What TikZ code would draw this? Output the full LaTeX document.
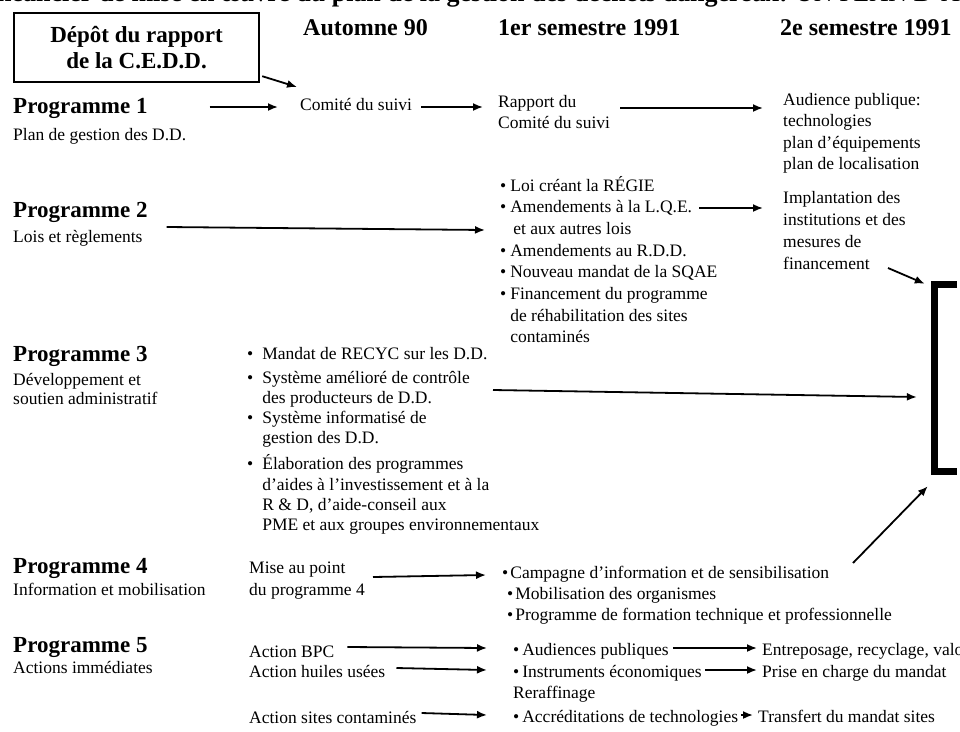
\documentclass[tikz,border=0pt]{standalone}
\usepackage{fontspec}
\setmainfont{Liberation Serif}
\usetikzlibrary{arrows.meta,calc}
\newcommand\ml[1]{\begin{tabular}[t]{@{}l@{}}#1\end{tabular}}
\newcommand\bl[2][4pt]{\begin{tabular}[t]{@{}l@{\hspace{#1}}l@{}}#2\end{tabular}}
\tikzset{
  lbl/.style={anchor=base west, inner sep=0pt, font=\fontsize{17.5}{21.5}\selectfont},
  prog/.style={anchor=base west, inner sep=0pt, font=\bfseries\fontsize{23}{26}\selectfont},
  hdr/.style={anchor=base west, inner sep=0pt, font=\bfseries\fontsize{24}{28}\selectfont},
  arr/.style={-{Latex[length=10pt,width=8pt]}, line width=1.8pt},
}
\begin{document}
\begin{tikzpicture}[x=1pt,y=-1pt]
\useasboundingbox (0,0) rectangle (960,731);
\fill[white] (0,0) rectangle (960,731);
\clip (0,0) rectangle (960,731);

% title (cut at the top, as in the scan)
\node[anchor=base east, inner sep=0pt, font=\bfseries\fontsize{26}{30}\selectfont] (ttl) at (788,1.5) {Figure 2 — Échéancier de mise en œuvre du plan de la gestion des déchets dangereux:};
\node[anchor=base west, inner sep=0pt, font=\fontsize{26}{30}\selectfont] (ttl2) at (795,1.5) {UN PLAN D’ACTION};

% box
\node[draw, line width=2.2pt, minimum width=245pt, minimum height=69pt, anchor=north west,
      align=center, inner sep=0pt, font=\bfseries\fontsize{23}{26}\selectfont] (box) at (13,12)
      {Dépôt du rapport\\de la C.E.D.D.};

% headers
\node[hdr] (h0) at (303,35) {Automne 90};
\node[hdr] (h1) at (498,35) {1er semestre 1991};
\node[hdr] (h2) at (780,35) {2e semestre 1991};

% Programme 1
\node[prog] (p1) at (13,113) {Programme 1};
\node[lbl] (p1s) at (13,140) {Plan de gestion des D.D.};
\node[lbl] (comite) at (300,110) {Comité du suivi};
\node[lbl] (rapport) at (498,107) {\ml{Rapport du\\Comité du suivi}};
\node[lbl] (aud) at (783,105) {\ml{Audience publique:\\technologies\\plan d’équipements\\plan de localisation}};

% Programme 2
\node[prog] (p2) at (13,217) {Programme 2};
\node[lbl] (p2s) at (13,242) {Lois et règlements};
\node[lbl, font=\fontsize{17.5}{21.7}\selectfont] (lois) at (500,191) {\bl{%
• & Loi créant la RÉGIE\\
• & Amendements à la L.Q.E.\\
  & \hspace{3pt}et aux autres lois\\
• & Amendements au R.D.D.\\
• & Nouveau mandat de la SQAE\\
• & Financement du programme\\
  & de réhabilitation des sites\\
  & contaminés}};
\node[lbl, font=\fontsize{17.5}{22}\selectfont] (impl) at (783,203) {\ml{Implantation des\\institutions et des\\mesures de\\financement}};

% Programme 3
\node[prog] (p3) at (13,361) {Programme 3};
\node[lbl, font=\fontsize{17.5}{19}\selectfont] (p3s) at (13,385) {\ml{Développement et\\soutien administratif}};
\node[lbl, font=\fontsize{17.5}{20.3}\selectfont] (p3l) at (247,359) {\bl[9pt]{%
• & Mandat de RECYC sur les D.D.\\[3.7pt]
• & Système amélioré de contrôle\\
  & des producteurs de D.D.\\
• & Système informatisé de\\
  & gestion des D.D.\\[4.7pt]
• & Élaboration des programmes\\
  & d’aides à l’investissement et à la\\
  & R \& D, d’aide-conseil aux\\
  & PME et aux groupes environnementaux}};

% Programme 4
\node[prog] (p4) at (13,573) {Programme 4};
\node[lbl] (p4s) at (13,595) {Information et mobilisation};
\node[lbl, font=\fontsize{17.5}{22}\selectfont] (mise) at (249,573) {\ml{Mise au point\\du programme 4}};
\node[lbl, font=\fontsize{17.5}{21}\selectfont] (p4l) at (507,578) {\bl[2pt]{%
\multicolumn{2}{@{}l@{}}{\hspace{-5pt}•\hspace{2pt}Campagne d’information et de sensibilisation}\\
• & Mobilisation des organismes\\
• & Programme de formation technique et professionnelle}};

% Programme 5
\node[prog] (p5) at (13,652) {Programme 5};
\node[lbl] (p5s) at (13,673) {Actions immédiates};
\node[lbl] (bpc) at (249,657) {Action BPC};
\node[lbl] (huiles) at (249,677) {Action huiles usées};
\node[lbl] (sites) at (249,723) {Action sites contaminés};
\node[lbl] (aud5) at (513,655) {•\hspace{3pt}Audiences publiques};
\node[lbl] (instr) at (513,677) {•\hspace{3pt}Instruments économiques};
\node[lbl] (reraff) at (513,698) {Reraffinage};
\node[lbl] (accr) at (513,722) {•\hspace{3pt}Accréditations de technologies};
\node[lbl] (entre) at (762,655) {Entreposage, recyclage, valorisation};
\node[lbl] (prise) at (762,677) {Prise en charge du mandat};
\node[lbl] (transf) at (758,722) {Transfert du mandat sites};

% bracket
\node[inner sep=0pt, minimum width=22pt, minimum height=186pt] (brk) at (946,378) {};
\draw[line width=7pt, miter limit=10] (brk.north east) -- (brk.north west) -- (brk.south west) -- (brk.south east);

% connectors
\draw[arr] ($(p1.base east)+(62,-6)$) -- ($(comite.base west)+(-22,-3)$);
\draw[arr] ($(box.south east)+(2,-7)$) -- ($(comite.base west)+(-3,-23)$);
\draw[arr] ($(comite.base east)+(9,-3)$) -- ($(rapport.base west)+(-15,0)$);
\draw[arr] ($(rapport.base west)+(122,1)$) -- ($(aud.base west)+(-20,3)$);
\draw[arr] ($(p2.base east)+(19,10)$) -- ($(lois.base west)+(-15,39)$);
\draw[arr] ($(lois.base west)+(199,17)$) -- ($(impl.base west)+(-20,5)$);
\draw[arr] ($(impl.base west)+(105,65)$) -- ($(brk.north west)+(-10,-1)$);
\draw[arr] ($(p3l.base west)+(246,31)$) -- ($(brk.west)+(-18,19)$);
\draw[arr] ($(mise.base west)+(124,4)$) -- ($(p4l.base west)+(-21,-3)$);
\draw[arr] ($(p4l.base west)+(346,-15)$) -- ($(brk.south west)+(-7,15)$);
\draw[arr] ($(bpc.base east)+(13,-10)$) -- ($(aud5.base west)+(-26,-7)$);
\draw[arr] ($(huiles.base east)+(11,-9)$) -- ($(instr.base west)+(-26,-7)$);
\draw[arr] ($(sites.base east)+(5,-10)$) -- ($(accr.base west)+(-26,-7)$);
\draw[arr] ($(aud5.base east)+(4,-7)$) -- ($(entre.base west)+(-5,-7)$);
\draw[arr] ($(instr.base east)+(3,-7)$) -- ($(prise.base west)+(-5,-7)$);
\draw[arr] ($(accr.base east)+(3,-7)$) -- ($(transf.base west)+(-5,-7)$);
\end{tikzpicture}
\end{document}
